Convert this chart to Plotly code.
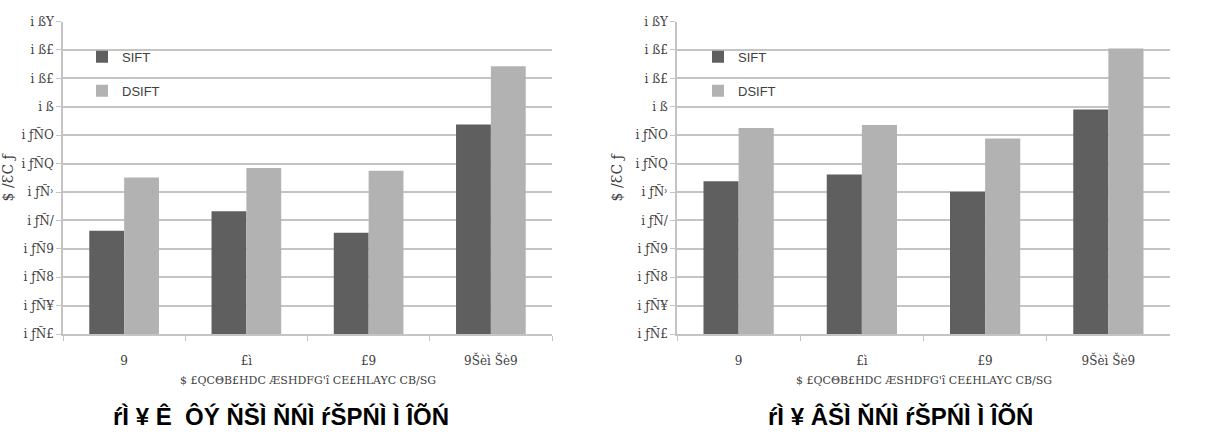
import plotly.graph_objects as go

# ---- data ----
categories = ["9", "£ì", "£9", "9Šèì Šè9"]
series_names = ["SIFT", "DSIFT"]
left_sift = [0.8564, 0.8632, 0.8557, 0.8938]
left_dsift = [0.8751, 0.8785, 0.8775, 0.9143]
right_sift = [0.8738, 0.8762, 0.8701, 0.8990]
right_dsift = [0.8925, 0.8936, 0.8888, 0.9205]
tick_values = [0.82, 0.83, 0.84, 0.85, 0.86, 0.87, 0.88, 0.89, 0.90, 0.91, 0.92, 0.93]
tick_labels = ["i ƒÑ£", "i ƒÑ¥", "i ƒÑ8", "i ƒÑ9", "i ƒÑ/", "i ƒÑ˒", "i ƒÑQ", "i ƒÑO",
               "i ß", "i ß£", "i ß£", "i ßY"]
y_title = "$ /ƐC ƒ"
x_title = "$ £QCΘB£HDC ÆSHDFG'î CE£HLAYC CB/SG"
title_left = "ŕÌ ¥ Ê  ÔÝ ŇŠÌ ŇŃÌ ŕŠPŃÌ Ì ÎÕŃ"
title_right = "ŕÌ ¥ ÂŠÌ ŇŃÌ ŕŠPŃÌ Ì ÎÕŃ"

W, H = 1215, 435
dark = "#5f5f5f"
light = "#b2b2b2"
grid = "#c4c4c4"
txt = "#404040"
narrow = "Liberation Sans Narrow, Arial Narrow, Liberation Sans, sans-serif"

fig = go.Figure()
fig.add_trace(go.Bar(x=categories, y=left_sift, name=series_names[0], marker_color=dark,
                     marker_line_width=0, xaxis="x", yaxis="y", legend="legend", legendgroup="a"))
fig.add_trace(go.Bar(x=categories, y=left_dsift, name=series_names[1], marker_color=light,
                     marker_line_width=0, xaxis="x", yaxis="y", legend="legend", legendgroup="b"))
fig.add_trace(go.Bar(x=categories, y=right_sift, name=series_names[0], marker_color=dark,
                     marker_line_width=0, xaxis="x2", yaxis="y2", legend="legend2", legendgroup="c"))
fig.add_trace(go.Bar(x=categories, y=right_dsift, name=series_names[1], marker_color=light,
                     marker_line_width=0, xaxis="x2", yaxis="y2", legend="legend2", legendgroup="d"))

ydom = [1 - 338 / H, 1 - 15 / H]
xdom1 = [63 / W, 552 / W]
xdom2 = [677 / W, 1170 / W]

xcommon = dict(type="category", showline=True, linecolor=grid, linewidth=1.5,
               ticks="outside", tickson="boundaries", ticklen=5, tickcolor=grid,
               tickfont=dict(family="DejaVu Serif, serif", size=12, color=txt),
               ticklabelstandoff=15, showgrid=False, zeroline=False)
ycommon = dict(range=[0.82, 0.93], tickvals=tick_values, ticktext=tick_labels,
               showline=True, linecolor=grid, linewidth=1.5, ticks="outside", ticklen=5,
               tickcolor=grid, showgrid=True, gridcolor=grid, gridwidth=1.5, zeroline=False,
               tickfont=dict(family="DejaVu Serif, serif", size=12, color=txt),
               title=dict(text=y_title, font=dict(family="DejaVu Serif, serif", size=14, color=txt),
                          standoff=10))

fig.update_layout(
    width=W, height=H, margin=dict(l=0, r=0, t=0, b=0),
    paper_bgcolor="white", plot_bgcolor="white",
    barmode="group", bargap=0.43, bargroupgap=0,
    xaxis=dict(domain=xdom1, anchor="y", **xcommon),
    yaxis=dict(domain=ydom, anchor="x", **ycommon),
    xaxis2=dict(domain=xdom2, anchor="y2", **xcommon),
    yaxis2=dict(domain=ydom, anchor="x2", **ycommon),
    legend=dict(x=82 / W, y=1 - 36 / H, xanchor="left", yanchor="top",
                traceorder="grouped", tracegroupgap=14, bgcolor="rgba(0,0,0,0)",
                font=dict(family=narrow, size=13, color=txt), itemwidth=30),
    legend2=dict(x=698 / W, y=1 - 36 / H, xanchor="left", yanchor="top",
                 traceorder="grouped", tracegroupgap=14, bgcolor="rgba(0,0,0,0)",
                 font=dict(family=narrow, size=13, color=txt), itemwidth=30),
    showlegend=True,
)

for cx in [(xdom1[0] + xdom1[1]) / 2, (xdom2[0] + xdom2[1]) / 2]:
    fig.add_annotation(x=cx, y=1 - 386 / H, xref="paper", yref="paper", text=x_title,
                       xanchor="center", yanchor="middle",
                       showarrow=False, font=dict(family="DejaVu Serif, serif", size=11, color=txt))

fig.add_annotation(x=281 / W, y=1 - 423 / H, xref="paper", yref="paper", text="<b>" + title_left + "</b>",
                   xanchor="center", yanchor="middle",
                   showarrow=False, font=dict(family=narrow, size=24, color="black"))
fig.add_annotation(x=900 / W, y=1 - 423 / H, xref="paper", yref="paper", text="<b>" + title_right + "</b>",
                   xanchor="center", yanchor="middle",
                   showarrow=False, font=dict(family=narrow, size=24, color="black"))

fig.write_html("out.html")
